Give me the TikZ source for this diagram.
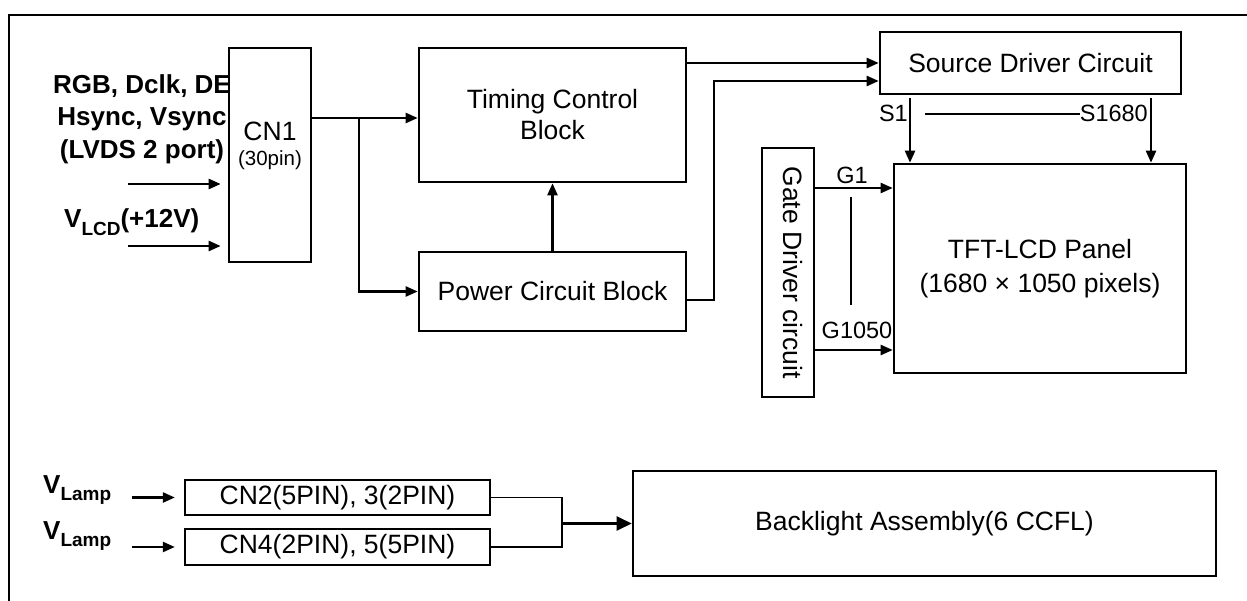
\documentclass[tikz,border=0pt]{standalone}
\usepackage{fontspec}
\setmainfont{Liberation Sans}
\usetikzlibrary{arrows.meta}
\begin{document}
\begin{tikzpicture}[x=1pt,y=-1pt,
  box/.style={draw, line width=2.6pt, inner sep=0pt, align=center, font=\fontsize{26.5}{31}\selectfont},
  conn/.style={line width=2.3pt},
  arr/.style={conn, -{Triangle[length=12pt,width=10pt]}},
  thinconn/.style={line width=1.5pt},
  txt/.style={inner sep=0pt, font=\fontsize{26.5}{31}\selectfont, align=center},
  lbl/.style={inner sep=0pt, font=\fontsize{23.5}{27}\selectfont},
  blbl/.style={inner sep=0pt, font=\bfseries\fontsize{26}{32.5}\selectfont, align=center}]
\useasboundingbox (0,0) rectangle (1247,601);
% frame
\draw[line width=2.6pt] (1247,15) -- (9,15) -- (9,601);

% boxes
\node[box, minimum width=82pt, minimum height=214pt] (cn1) at (270,155) {};
\node[txt] (cn1a) at (270,131) {CN1};
\node[txt, font=\fontsize{20.5}{20}\selectfont] (cn1b) at (270,160) {(30pin)};
\node[box, minimum width=267pt, minimum height=134pt] (tcb) at (552.5,115) {Timing Control\\Block};
\node[box, minimum width=267pt, minimum height=79pt] (pcb) at (552.5,291.5) {Power Circuit Block};
\node[box, minimum width=301pt, minimum height=62pt] (sdc) at (1030.5,63) {Source Driver Circuit};
\node[box, minimum width=292pt, minimum height=209pt, font=\fontsize{26.5}{34}\selectfont] (panel) at (1040,268.5) {TFT-LCD Panel\\(1680 × 1050 pixels)};
\node[box, minimum width=52pt, minimum height=249pt] (gate) at (788,272.5) {};
\node[txt, rotate=-90] (gatet) at (793,272.5) {Gate Driver circuit};
\node[box, line width=2.3pt, minimum width=305pt, minimum height=35pt] (cn2) at (337.5,497.5) {CN2(5PIN), 3(2PIN)};
\node[box, line width=2.3pt, minimum width=305pt, minimum height=36pt] (cn4) at (337.5,547) {CN4(2PIN), 5(5PIN)};
\node[box, minimum width=583pt, minimum height=105pt] (bl) at (924.5,523.5) {Backlight Assembly(6 CCFL)};

% left labels
\node[blbl] (sig) at (142,119) {RGB, Dclk, DE\\Hsync, Vsync\\(LVDS 2 port)};
\node[blbl, anchor=west] (vlcd) at (64,222) {V\raisebox{-0.3em}{\fontsize{19}{19}\selectfont LCD}(+12V)};
\node[blbl, anchor=west] (vl1) at (43,490) {V\raisebox{-0.3em}{\fontsize{19}{19}\selectfont Lamp}};
\node[blbl, anchor=west] (vl2) at (43,536) {V\raisebox{-0.3em}{\fontsize{19}{19}\selectfont Lamp}};

% input arrows to CN1
\coordinate (in1) at (128,184);
\coordinate (in2) at (128,246);
\draw[arr, shorten >=7pt] (in1) -- (cn1.west |- in1);
\draw[arr, shorten >=7pt] (in2) -- (cn1.west |- in2);

% CN1 to timing / power
\coordinate (j1) at (359,118);
\draw[arr] (cn1.east |- j1) -- (tcb.west |- j1);
\draw[arr] (j1) |- (pcb.west);
\draw[arr] (pcb.north) -- (tcb.south);

% to source driver
\draw[arr] (tcb.east |- sdc.west) -- (sdc.west);
\coordinate (pv) at (714,0);
\draw[arr] ([yshift=-8.5pt]pcb.east) -| (pv |- 0,81) -- ([yshift=-18pt]sdc.west);

% source lines
\coordinate (s1x) at (910,98);
\coordinate (s2x) at (1151,98);
\draw[arr] (s1x) -- (panel.north -| s1x);
\draw[arr] (s2x) -- (panel.north -| s2x);
\node[lbl, anchor=east] (s1l) at (908,113) {S1};
\node[lbl, anchor=east] (s2l) at (1148,113) {S1680};
\draw[conn] (925,114) -- (s2l.west |- 0,114);

% gate lines
\coordinate (g1y) at (0,188);
\coordinate (g2y) at (0,350);
\draw[arr] (gate.east |- g1y) -- (panel.west |- g1y);
\draw[arr] (gate.east |- g2y) -- (panel.west |- g2y);
\node[lbl] (g1l) at (852,175) {G1};
\node[lbl] (g2l) at (857,330) {G1050};
\draw[conn] (851,197) -- (851,305);

% lamp inputs
\draw[arr, shorten >=9pt] ([xshift=-52pt]cn2.west) -- (cn2.west);
\draw[arr, shorten >=9pt] ([xshift=-52pt]cn4.west) -- (cn4.west);
\coordinate (j2) at (562,523.5);
\draw[thinconn] (cn2.east) -| (j2) |- (cn4.east);
\draw[conn, -{Triangle[length=15pt,width=14pt]}] (j2) -- (bl.west);
\end{tikzpicture}
\end{document}
